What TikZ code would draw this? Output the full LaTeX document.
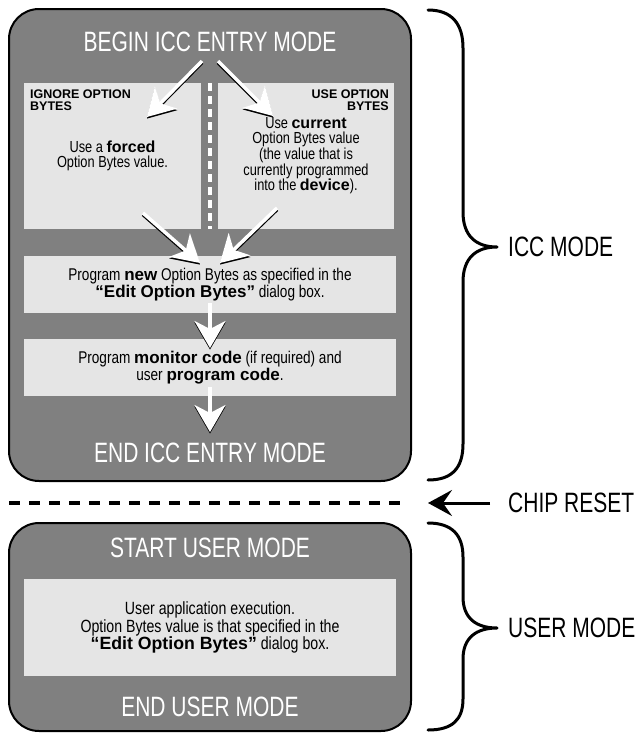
\documentclass[tikz,border=0pt]{standalone}
\usepackage{fontspec}
\setmainfont{Liberation Sans}
\newfontfamily\titlefont[FakeStretch=0.75]{Liberation Sans}
\newfontfamily\bodyfont[FakeStretch=0.8]{Liberation Sans}
\newfontfamily\heavyfont{Liberation Sans}
\usetikzlibrary{arrows.meta}
\newcommand\hv[1]{{\heavyfont\bfseries #1}}
\definecolor{boxgray}{gray}{0.5}
\definecolor{panelgray}{gray}{0.9}
\tikzset{
  outerbox/.style={draw=black, line width=2pt, fill=boxgray, rounded corners=30pt, inner sep=0pt},
  panel/.style={fill=panelgray, draw=none, inner sep=0pt, align=center, text=black,
    font=\bodyfont\fontsize{16}{15}\selectfont},
  titletext/.style={text=white, inner sep=0pt, font=\titlefont\fontsize{28}{30}\selectfont},
  sidelabel/.style={text=black, inner sep=0pt, anchor=west, font=\titlefont\fontsize{28}{30}\selectfont},
  hdr/.style={inner sep=0pt, font=\heavyfont\bfseries\fontsize{12.5}{11.5}\selectfont},
  whitearrow/.style={draw=white, line width=3.5pt, -{Stealth[length=27pt,width=31pt,inset=8pt]}},
  shadowarrow/.style={whitearrow, draw=black, transform canvas={yshift=-1.6pt}},
  bracepath/.style={draw=black, line width=3pt, line cap=round, line join=round},
}
\begin{document}
\begin{tikzpicture}[x=1pt,y=-1pt]
\useasboundingbox (0,0) rectangle (644,734);

% ICC mode outer box
\node[outerbox, minimum width=402pt, minimum height=472pt] (icc) at (210,245) {};
\node[titletext] (begin) at (210,42) {BEGIN ICC ENTRY MODE};
\node[titletext] (endicc) at (210,453) {END ICC ENTRY MODE};

% two option panels
\node[panel, minimum width=177pt, minimum height=146pt] (lp) at (112.5,156)
  {Use a \hv{forced}\\Option Bytes value.};
\node[panel, minimum width=176pt, minimum height=146pt,
  font=\bodyfont\fontsize{16}{14.4}\selectfont] (rp) at (306,156)
  {Use \hv{current}\\Option Bytes value\\(the value that is\\currently programmed\\into the \hv{device}).};
\node[hdr, anchor=north west, align=left] (lh) at (30,90) {IGNORE OPTION\\BYTES};
\node[hdr, anchor=north east, align=right] (rh) at (389,90) {USE OPTION\\BYTES};
\coordinate (dtop) at (210,83);
\coordinate (dbot) at (210,229);
\draw[white, line width=4pt, dash pattern=on 8pt off 5pt] (dtop) -- (dbot);

% program boxes
\node[panel, minimum width=372pt, minimum height=57pt,
  font=\bodyfont\fontsize{17}{17}\selectfont] (b1) at (210,284.5)
  {Program \hv{new} Option Bytes as specified in the\\\hv{“Edit Option Bytes”} dialog box.};
\node[panel, minimum width=372pt, minimum height=57pt,
  font=\bodyfont\fontsize{17}{17}\selectfont] (b2) at (210,367.5)
  {Program \hv{monitor code} (if required) and\\user \hv{program code}.};

% arrow coordinates
\coordinate (a1s) at (202,61);  \coordinate (a1e) at (147,117);
\coordinate (a2s) at (218,61);  \coordinate (a2e) at (273,116);
\coordinate (a3s) at (143,213); \coordinate (a3e) at (200,263);
\coordinate (a4s) at (277,208); \coordinate (a4e) at (220,263);
\coordinate (a5s) at (210,303); \coordinate (a5e) at (210,348);
\coordinate (a6s) at (210,387); \coordinate (a6e) at (210,432);

\foreach \s/\e in {a1s/a1e,a2s/a2e,a3s/a3e,a4s/a4e,a5s/a5e,a6s/a6e}{
  \draw[shadowarrow] (\s) -- (\e);
}
\foreach \s/\e in {a1s/a1e,a2s/a2e,a3s/a3e,a4s/a4e,a5s/a5e,a6s/a6e}{
  \draw[whitearrow] (\s) -- (\e);
}

% chip reset line
\coordinate (rl) at (9,503);
\coordinate (rr) at (409,503);
\draw[line width=3.5pt, dash pattern=on 11pt off 9pt] (rl) -- (rr);

% user mode box
\node[outerbox, minimum width=402pt, minimum height=208pt] (user) at (210,627) {};
\node[titletext] (startu) at (210,548) {START USER MODE};
\node[titletext] (endu) at (210,707) {END USER MODE};
\node[panel, minimum width=372pt, minimum height=97pt,
  font=\bodyfont\fontsize{17.7}{15.5}\selectfont] (up) at (210,627.5)
  {User application execution.\\Option Bytes value is that specified in the\\\hv{“Edit Option Bytes”} dialog box.};

% side labels
\node[sidelabel] (iccl) at (508,247) {ICC MODE};
\node[sidelabel] (crl) at (508,503) {CHIP RESET};
\node[sidelabel] (usl) at (508,628) {USER MODE};

% reset arrow
\coordinate (crs) at ([xshift=-18pt]crl.west);
\coordinate (cre) at (428,503);
\draw[line width=3pt, -{Stealth[length=24pt,width=26pt,inset=9pt]}] (crs) -- (cre);

% braces
\coordinate (br1tip) at (497,247);
\draw[bracepath] (428,10) .. controls (452,10) and (463,24) .. (463,48) -- (463,212)
  .. controls (463,236) and (476,247) .. (br1tip)
  .. controls (476,247) and (463,258) .. (463,282) -- (463,444)
  .. controls (463,468) and (452,480) .. (428,480);
\coordinate (br2tip) at (497,628);
\draw[bracepath] (428,523) .. controls (452,523) and (463,535) .. (463,557) -- (463,597)
  .. controls (463,618) and (476,628) .. (br2tip)
  .. controls (476,628) and (463,638) .. (463,659) -- (463,699)
  .. controls (463,720) and (452,730) .. (428,730);
\end{tikzpicture}
\end{document}
